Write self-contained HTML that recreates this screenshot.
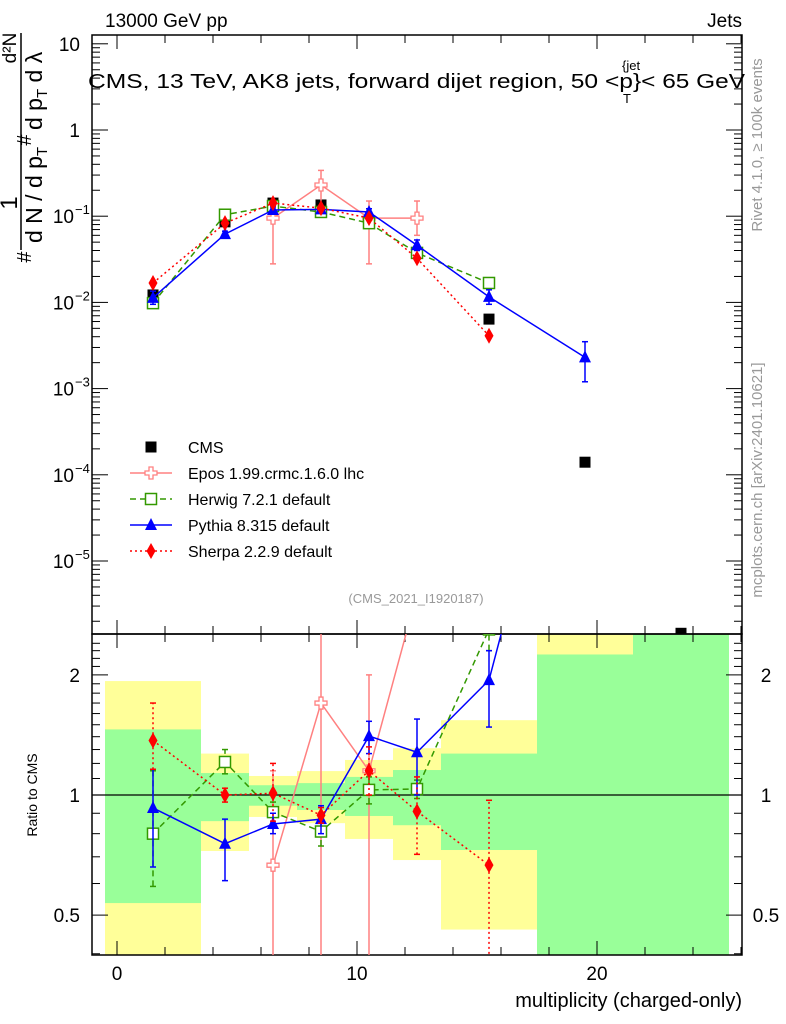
<!DOCTYPE html>
<html><head><meta charset="utf-8"><style>
body{margin:0;background:#fff;overflow:hidden;}
svg{display:block;font-family:"Liberation Sans",sans-serif;}
</style></head><body>
<svg id="c" width="786" height="1024" viewBox="0 0 786 1024">
<defs>
<clipPath id="mainClip"><rect x="92" y="35" width="650" height="599"/></clipPath>
<clipPath id="ratClip"><rect x="92" y="634" width="650" height="321"/></clipPath>
</defs>
<g id="bands" clip-path="url(#ratClip)"></g>
<g id="axes"></g>
<g id="series"></g>
<text x="105" y="27" font-size="19">13000 GeV pp</text>
<text x="742" y="27" font-size="19" text-anchor="end">Jets</text>
<g font-size="20">
<text x="88" y="88" textLength="545" lengthAdjust="spacingAndGlyphs">CMS, 13 TeV, AK8 jets, forward dijet region, 50 &lt;p</text>
<text x="622" y="70" font-size="13">{jet</text>
<text x="623" y="103" font-size="13">T</text>
<text x="633" y="88" textLength="112" lengthAdjust="spacingAndGlyphs">}&lt; 65 GeV</text>
</g>
<text x="416" y="603" font-size="13" fill="#999" text-anchor="middle">(CMS_2021_I1920187)</text>
<text transform="translate(762,145) rotate(-90)" font-size="15" fill="#999" text-anchor="middle">Rivet 4.1.0, ≥ 100k events</text>
<text transform="translate(762,480) rotate(-90)" font-size="15" fill="#999" text-anchor="middle">mcplots.cern.ch [arXiv:2401.10621]</text>
<g>
<line x1="21" y1="33" x2="21" y2="250" stroke="#000" stroke-width="1.5"/>
<text transform="translate(16,48) rotate(-90)" font-size="19" text-anchor="middle">d²N</text>
<text transform="translate(17,203) rotate(-90)" font-size="24" text-anchor="middle">1</text>
<text transform="translate(42,243) rotate(-90)" font-size="23">d N / d p<tspan font-size="15" dy="5">T</tspan></text>
<text transform="translate(42,130) rotate(-90)" font-size="23">d p<tspan font-size="15" dy="5">T</tspan><tspan dy="-5"> d λ</tspan></text>
<text transform="translate(31,140) rotate(-90)" font-size="20" text-anchor="middle">#</text>
<text transform="translate(31,257) rotate(-90)" font-size="20" text-anchor="middle">#</text>
</g>
<text transform="translate(37,795) rotate(-90)" font-size="14" text-anchor="middle">Ratio to CMS</text>
<text x="742" y="1007" font-size="20" text-anchor="end">multiplicity (charged-only)</text>
<g id="legend"></g>
</svg>
<script>
// ---- data ----
const xCenters=[1.5,4.5,6.5,8.5,10.5,12.5,15.5,19.5,23.5];
const cmsVals=[0.0122,0.086,0.142,0.135,0.083,0.0375,0.0064,0.00014,0.00000145];
const eposX=[6.5,8.5,10.5,12.5];
const eposVals=[0.095,0.23,0.095,0.095];
const eposLo=[0.028,0.11,0.028,0.06];
const eposHi=[0.15,0.34,0.15,0.15];
const herwigX=[1.5,4.5,6.5,8.5,10.5,12.5,15.5];
const herwigVals=[0.0098,0.104,0.131,0.112,0.083,0.0375,0.0168];
const pythiaX=[1.5,4.5,6.5,8.5,10.5,12.5,15.5,19.5];
const pythiaVals=[0.0113,0.062,0.118,0.12,0.112,0.046,0.0116,0.0023];
const pythiaLo=[0.0095,0.057,0.108,0.11,0.102,0.04,0.0095,0.0012];
const pythiaHi=[0.0135,0.067,0.128,0.13,0.122,0.053,0.014,0.0035];
const sherpaX=[1.5,4.5,6.5,8.5,10.5,12.5,15.5];
const sherpaVals=[0.0168,0.083,0.142,0.124,0.095,0.0325,0.0041];
// ratio band edges and values
const binLo=[-0.5,3.5,5.5,7.5,9.5,11.5,13.5,17.5,21.5];
const binHi=[3.5,5.5,7.5,9.5,11.5,13.5,17.5,21.5,25.5];
const yelUp=[1.93,1.27,1.116,1.148,1.224,1.31,1.54,3,3];
const yelDn=[0.3,0.724,0.881,0.85,0.776,0.687,0.46,0.1,0.1];
const grnUp=[1.46,1.135,1.058,1.071,1.11,1.155,1.27,2.25,3];
const grnDn=[0.536,0.86,0.94,0.917,0.886,0.84,0.728,0.1,0.1];
const rEpos=[0.667,1.70,1.15,3.2];
const rEposLo=[0.2,0.2,0.2,2.8];
const rEposHi=[1.15,3,2.0,3.5];
const rHerwig=[0.80,1.21,0.906,0.81,1.03,1.035,2.6];
const rHerwigLo=[0.59,1.13,0.85,0.745,0.95,0.98,2.3];
const rHerwigHi=[1.15,1.30,0.96,0.87,1.11,1.09,2.9];
const rPythia=[0.928,0.755,0.846,0.87,1.405,1.28,1.94,16];
const rPythiaLo=[0.66,0.61,0.8,0.8,1.27,1.0,1.48,8];
const rPythiaHi=[1.16,0.87,0.9,0.94,1.53,1.55,2.3,25];
const rSherpa=[1.37,1.0,1.01,0.89,1.15,0.91,0.667];
const rSherpaLo=[1.16,0.96,0.86,0.85,1.0,0.71,0.2];
const rSherpaHi=[1.7,1.04,1.2,0.93,1.32,1.11,0.97];
const xTicks=[0,10,20];
const ratioTicks=[0.5,1,2];
// ---- scales ----
const X=v=>117+24*v;
const Ym=v=>130-86.2*Math.log10(v);
const Yr=v=>795-399*Math.log10(v);
const NS='http://www.w3.org/2000/svg';
function mk(tag,attrs,parent){const e=document.createElementNS(NS,tag);for(const k in attrs)e.setAttribute(k,attrs[k]);parent.appendChild(e);return e;}
const ax=document.getElementById('axes'),bd=document.getElementById('bands'),sr=document.getElementById('series');
binLo.forEach((b,i)=>{
 const y=mk('rect',{x:X(b),y:Yr(yelUp[i]),width:X(binHi[i])-X(b),height:Yr(yelDn[i])-Yr(yelUp[i]),fill:'#ffff99'},bd);
 
 
 const g=mk('rect',{x:X(b),y:Yr(grnUp[i]),width:X(binHi[i])-X(b),height:Yr(grnDn[i])-Yr(grnUp[i]),fill:'#99ff99'},bd);
 
 
});
const f1=mk('rect',{x:92,y:35,width:650,height:599,fill:'none',stroke:'#000','stroke-width':1.5},ax);


const f2=mk('rect',{x:92,y:634,width:650,height:321,fill:'none',stroke:'#000','stroke-width':1.5},ax);


mk('line',{x1:92,x2:742,y1:Yr(1),y2:Yr(1),stroke:'#000','stroke-width':1.2},ax);
for(let v=0;v<=26;v+=2){const big=v%10===0,L=big?14:8;
 [[35,1],[634,-1],[634,1],[955,-1]].forEach(([y0,d])=>mk('line',{x1:X(v),x2:X(v),y1:y0,y2:y0+d*L,stroke:'#000'},ax));}
xTicks.forEach(v=>{const t=mk('text',{x:X(v),y:980,'font-size':19,'text-anchor':'middle'},ax);t.textContent=v;
 
 });
for(let e=-6;e<=1;e++){for(let m=1;m<=9;m++){const v=m*Math.pow(10,e);const y=Ym(v);if(y<35||y>634)continue;const L=m===1?16:8;
 mk('line',{x1:92,x2:92+L,y1:y,y2:y,stroke:'#000'},ax);mk('line',{x1:742,x2:742-L,y1:y,y2:y,stroke:'#000'},ax);}}
const mainLabels=[[1,'10',''],[0,'1',''],[-1,'10','−1'],[-2,'10','−2'],[-3,'10','−3'],[-4,'10','−4'],[-5,'10','−5']];
mainLabels.forEach(([e,b,s])=>{const y=Ym(Math.pow(10,e));const t=mk('text',{x:s?74:80,y:y+7,'font-size':19,'text-anchor':'end'},ax);t.textContent=b;
 
 
 if(s){const u=mk('text',{x:75,y:y-2,'font-size':13},ax);u.textContent=s;}});
for(let v=0.4;v<=2.5;v+=0.1){const y=Yr(v);const maj=[0.5,1,2].some(a=>Math.abs(a-v)<1e-6);const L=maj?16:8;
 mk('line',{x1:92,x2:92+L,y1:y,y2:y,stroke:'#000'},ax);mk('line',{x1:742,x2:742-L,y1:y,y2:y,stroke:'#000'},ax);}
ratioTicks.forEach(v=>{[80,766].forEach(xx=>{const t=mk('text',{x:xx,y:Yr(v)+7,'font-size':19,'text-anchor':xx<100?'end':'middle'},ax);t.textContent=v;
 
 });});
function marker(type,x,y,col,g){
 if(type==='sq')return mk('rect',{x:x-5.5,y:y-5.5,width:11,height:11,fill:'#000'},g);
 if(type==='osq')return mk('rect',{x:x-5.5,y:y-5.5,width:11,height:11,fill:'#fff',stroke:col,'stroke-width':1.5},g);
 if(type==='tri')return mk('polygon',{points:`${x},${y-7} ${x-6},${y+5} ${x+6},${y+5}`,fill:col},g);
 if(type==='dia')return mk('polygon',{points:`${x},${y-8} ${x-4.5},${y} ${x},${y+8} ${x+4.5},${y}`,fill:col},g);
 if(type==='cross')return mk('path',{d:`M${x-2},${y-6}h4v4h4v4h-4v4h-4v-4h-4v-4h4z`,fill:'#fff',stroke:col,'stroke-width':1.3},g);
}
function series(name,xs,vals,lo,hi,Y,col,dash,mt,clip,w){
 const g=mk('g',{'clip-path':`url(#${clip})`},sr);
 
 
 if(col){const pts=xs.map((x,i)=>X(x)+','+Y(vals[i])).join(' ');
  mk('polyline',{points:pts,fill:'none',stroke:col,'stroke-width':w||1.5,'stroke-dasharray':dash||'none'},g);}
 xs.forEach((x,i)=>{
  if(lo){mk('line',{x1:X(x),x2:X(x),y1:Y(lo[i]),y2:Y(hi[i]),stroke:col||'#000','stroke-width':1.5,'stroke-dasharray':dash||'none'},g);
   [lo[i],hi[i]].forEach(v=>mk('line',{x1:X(x)-3,x2:X(x)+3,y1:Y(v),y2:Y(v),stroke:col||'#000','stroke-width':1.5},g));}
  const m=marker(mt,X(x),Y(vals[i]),col,g);
  
  
 });
}
series('cms-data',xCenters,cmsVals,null,null,Ym,null,null,'sq','mainClip');
series('epos-main',eposX,eposVals,eposLo,eposHi,Ym,'#ff8080',null,'cross','mainClip');
series('herwig-main',herwigX,herwigVals,null,null,Ym,'#339900','6,4','osq','mainClip');
series('pythia-main',pythiaX,pythiaVals,pythiaLo,pythiaHi,Ym,'#0000ff',null,'tri','mainClip');
series('sherpa-main',sherpaX,sherpaVals,null,null,Ym,'#ff0000','2,3','dia','mainClip');
series('epos-ratio',eposX,rEpos,rEposLo,rEposHi,Yr,'#ff8080',null,'cross','ratClip');
series('herwig-ratio',herwigX,rHerwig,rHerwigLo,rHerwigHi,Yr,'#339900','6,4','osq','ratClip');
series('pythia-ratio',pythiaX,rPythia,rPythiaLo,rPythiaHi,Yr,'#0000ff',null,'tri','ratClip');
series('sherpa-ratio',sherpaX,rSherpa,rSherpaLo,rSherpaHi,Yr,'#ff0000','2,3','dia','ratClip');
const lg=document.getElementById('legend');
const legNames=['CMS','Epos 1.99.crmc.1.6.0 lhc','Herwig 7.2.1 default','Pythia 8.315 default','Sherpa 2.2.9 default'];
const legCols=[null,'#ff8080','#339900','#0000ff','#ff0000'];
const legDash=[null,null,'6,4',null,'2,3'];
const legM=['sq','cross','osq','tri','dia'];
legNames.forEach((n,i)=>{const y=447+26*i;
 const g=mk('g',{},lg);
 
 
 if(legCols[i])mk('line',{x1:130,x2:172,y1:y,y2:y,stroke:legCols[i],'stroke-width':1.5,'stroke-dasharray':legDash[i]||'none'},g);
 marker(legM[i],151,y,legCols[i],g);
 const t=mk('text',{x:188,y:y+6,'font-size':16},g);t.textContent=n;});
</script>
</body></html>
